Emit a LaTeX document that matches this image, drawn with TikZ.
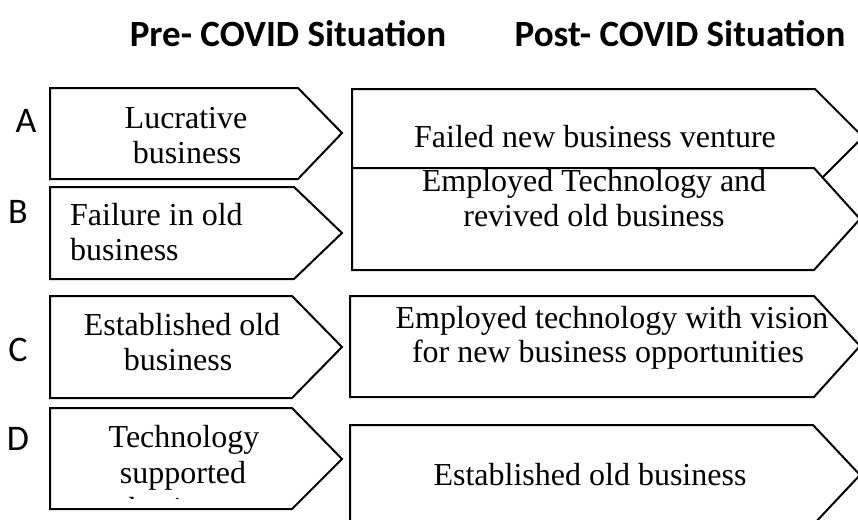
\documentclass[tikz,border=0pt]{standalone}
\usepackage{fontspec}
\setmainfont{Liberation Serif}
\newfontfamily\calib{Carlito}
\begin{document}
\begin{tikzpicture}[x=1pt,y=-1pt,
  box/.style={draw=black, line width=2pt, fill=white, line join=miter},
  body/.style={font=\fontsize{32}{35}\selectfont, anchor=base, inner sep=0pt},
  head/.style={font=\calib\bfseries\fontsize{37}{40}\selectfont, anchor=base, inner sep=0pt},
  lab/.style={font=\calib\fontsize{36}{40}\selectfont, anchor=base, inner sep=0pt}]
\useasboundingbox (0,0) rectangle (858,519);
\clip (0,0) rectangle (858,519);
% headers
\node[head] (hpre) at (288,47) {Pre- COVID Situation};
\node[head] (hpost) at (680,47) {Post- COVID Situation};
% row labels
\node[lab] (la) at (26,132) {A};
\node[lab] (lb) at (18,223) {B};
\node[lab] (lc) at (18,361) {C};
\node[lab] (ld) at (18,450) {D};
% left boxes
\draw[box] (50,88) -- (298,88) -- (342,133) -- (298,179) -- (50,179) -- cycle;
\draw[box] (50,187) -- (294,187) -- (342,233) -- (294,279) -- (50,279) -- cycle;
\draw[box] (50,296) -- (292,296) -- (342,347) -- (292,398) -- (50,398) -- cycle;
\draw[box] (50,408) -- (292,408) -- (342,459) -- (292,509) -- (50,509) -- cycle;
% right boxes
\draw[box] (352,89) -- (815,89) -- (863,137) -- (815,185) -- (352,185) -- cycle;
\draw[box] (352,168) -- (814,168) -- (860,219) -- (814,270) -- (352,270) -- cycle;
\draw[box] (350,296) -- (814,296) -- (860,346) -- (814,397) -- (350,397) -- cycle;
\draw[box] (350,425) -- (813,425) -- (860,475) -- (813,525) -- (350,525) -- cycle;
% left texts
\node[body] (ta1) at (186,128) {Lucrative};
\node[body] (ta2) at (187,163) {business};
\node[body, anchor=base west] (tb1) at (70,225) {Failure in old};
\node[body, anchor=base west] (tb2) at (70,260) {business};
\node[body] (tc1) at (182,335) {Established old};
\node[body] (tc2) at (178,370) {business};
\node[body] (td1) at (184,447) {Technology};
\node[body] (td2) at (183,483) {supported};
\begin{scope}
\clip (50,480) rectangle (300,498.5);
\node[body] (td3) at (183,519) {business};
\end{scope}
% right texts
\node[body] (r1) at (595,147) {Failed new business venture};
\node[body] (r2a) at (594,191) {Employed Technology and};
\node[body] (r2b) at (594,226) {revived old business};
\node[body] (r3a) at (612,328) {Employed technology with vision};
\node[body] (r3b) at (608,362) {for new business opportunities};
\node[body] (r4) at (590,485) {Established old business};
\end{tikzpicture}
\end{document}
